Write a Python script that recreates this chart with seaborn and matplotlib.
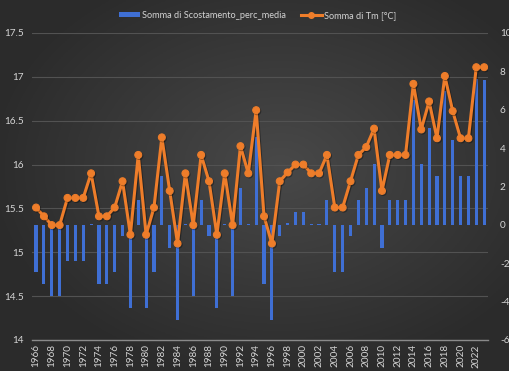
import numpy as np
import pandas as pd
import matplotlib
matplotlib.use("Agg")
import matplotlib.pyplot as plt
import matplotlib.patheffects as pe
from matplotlib.lines import Line2D
from matplotlib.patches import Patch
import seaborn as sns

years = list(range(1966, 2024))
tm = [15.51, 15.41, 15.31, 15.31, 15.62, 15.62, 15.62, 15.90, 15.41, 15.41,
      15.51, 15.81, 15.20, 16.11, 15.20, 15.51, 16.31, 15.70, 15.10, 15.90,
      15.31, 16.11, 15.81, 15.20, 15.90, 15.31, 16.21, 15.90, 16.62, 15.41,
      15.10, 15.81, 15.91, 16.00, 16.00, 15.90, 15.90, 16.11, 15.51, 15.51,
      15.81, 16.11, 16.20, 16.41, 15.70, 16.11, 16.11, 16.11, 16.92, 16.40,
      16.72, 16.30, 17.01, 16.61, 16.30, 16.30, 17.11, 17.11]
scost = [-2.47, -3.07, -3.73, -3.73, -1.86, -1.86, -1.86, 0.05, -3.07, -3.07,
         -2.47, -0.59, -4.34, 1.30, -4.34, -2.47, 2.53, -1.22, -4.98, 0.05,
         -3.73, 1.30, -0.59, -4.34, 0.05, -3.73, 1.93, 0.05, 4.60, -3.07,
         -4.98, -0.59, 0.10, 0.66, 0.66, 0.05, 0.05, 1.30, -2.47, -2.47,
         -0.59, 1.29, 1.91, 3.18, -1.22, 1.29, 1.29, 1.29, 6.50, 3.18,
         5.06, 2.54, 7.00, 4.43, 2.54, 2.54, 7.60, 7.57]
left_ticks = [14, 14.5, 15, 15.5, 16, 16.5, 17, 17.5]
left_labels = ["14", "14.5", "15", "15.5", "16", "16.5", "17", "17.5"]
right_ticks = [-6, -4, -2, 0, 2, 4, 6, 8, 10]
right_labels = ["-6", "-4", "-2", "0", "2", "4", "6", "8", "10"]
x_ticks = years[::2]
bar_label = "Somma di Scostamento_perc_media"
line_label = "Somma di Tm [°C]"

df = pd.DataFrame({"Anno": years, "Tm": tm, "Scost": scost})

plt.rcParams["font.family"] = ["Lato", "DejaVu Sans"]
txt = "#d4d4d4"
orange = "#ee7d2a"
blue = "#3f6fd4"

fig = plt.figure(figsize=(5.1, 3.71), dpi=100)
fig.patch.set_facecolor("#3a3a3a")

# background gradient
bg = fig.add_axes([0, 0, 1, 1], zorder=-10)
yy, xx = np.mgrid[0:1:200j, 0:1:260j]
r = np.sqrt(((xx - 0.55) / 0.8) ** 2 + ((yy - 0.55) / 0.8) ** 2)
val = np.clip(0.285 - 0.16 * r, 0.17, 0.30)
bg.imshow(np.dstack([val, val, val]), aspect="auto", extent=[0, 1, 0, 1], origin="lower")
bg.set_axis_off()

rect = [0.063, 0.0836, 0.894, 0.8275]
ax = fig.add_axes(rect)
ax.patch.set_visible(False)
ax.set_ylim(14, 17.5)
ax.set_xlim(1965.5, 2023.5)
ax.set_yticks(left_ticks)
ax.set_yticklabels(left_labels)
ax.grid(axis="y", color="#525252", linewidth=0.8)
ax.set_axisbelow(True)
for s in ["top", "right", "left"]:
    ax.spines[s].set_visible(False)
ax.spines["bottom"].set_color("#8a8a8a")
ax.spines["bottom"].set_linewidth(1.0)
ax.set_xticks(x_ticks)
ax.set_xticklabels([str(y) for y in x_ticks], rotation=90)
ax.tick_params(axis="both", length=0, colors=txt, labelsize=7.2)
ax.tick_params(axis="y", pad=6)
ax.tick_params(axis="x", pad=3)

axb = ax.twinx()
sns.barplot(data=df, x="Anno", y="Scost", native_scale=True, ax=axb,
            color=blue, width=0.4, saturation=1, linewidth=0, zorder=2)
axb.set_ylim(-6, 10)
axb.set_xlim(1965.5, 2023.5)
axb.set_yticks(right_ticks)
axb.set_yticklabels(right_labels)
axb.tick_params(axis="y", length=0, colors=txt, labelsize=7.2, pad=8.5)
axb.set_ylabel("")
axb.set_xlabel("")
for s in axb.spines.values():
    s.set_visible(False)

axl = ax.twinx()
sns.lineplot(data=df, x="Anno", y="Tm", ax=axl, color=orange, linewidth=2.2,
             marker="o", markersize=5, markeredgecolor=orange,
             path_effects=[pe.SimpleLineShadow(offset=(0.8, -0.8), shadow_color="black", alpha=0.35),
                           pe.Normal()])
axl.set_ylim(14, 17.5)
axl.set_xlim(1965.5, 2023.5)
axl.set_yticks([])
axl.set_ylabel("")
axl.set_xlabel("")
for s in axl.spines.values():
    s.set_visible(False)
ax.set_xlabel("")

handles = [Patch(facecolor=blue, edgecolor="none"),
           Line2D([0], [0], color=orange, linewidth=2.2, marker="o", markersize=4)]
fig.legend(handles, [bar_label, line_label], loc="center", bbox_to_anchor=(0.505, 0.958),
           ncol=2, frameon=False, fontsize=6.6, labelcolor=txt, handlelength=2.3,
           handleheight=0.5, columnspacing=1.6, handletextpad=0.2)

fig.savefig("out.png", dpi=100, facecolor=fig.get_facecolor())
